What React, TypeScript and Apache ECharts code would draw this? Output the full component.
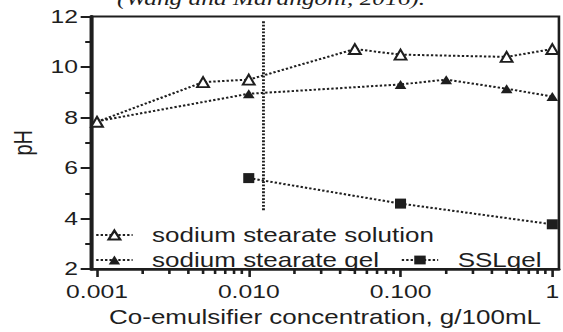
import React, { useEffect, useRef } from "react";
import * as echarts from "echarts";

// ---- data ----
const solutionX = [0.001, 0.005, 0.01, 0.05, 0.1, 0.5, 1];
const solutionPH = [7.83, 9.4, 9.5, 10.71, 10.49, 10.4, 10.71];
const gelX = [0.001, 0.01, 0.1, 0.2, 0.5, 1];
const gelPH = [7.85, 8.94, 9.31, 9.5, 9.14, 8.83];
const sslX = [0.01, 0.1, 1];
const sslPH = [5.6, 4.59, 3.77];
const refLineX = 0.0125;
const refLineY = [4.33, 11.83];
const minorTicksX = [
  0.002, 0.003, 0.004, 0.005, 0.006, 0.007, 0.008, 0.009,
  0.02, 0.03, 0.04, 0.05, 0.06, 0.07, 0.08, 0.09,
  0.2, 0.3, 0.4, 0.5, 0.6, 0.7, 0.8, 0.9,
];
const seriesNames = ["sodium stearate solution", "sodium stearate gel", "SSLgel"];
const xAxisTitle = "Co-emulsifier concentration, g/100mL";
const yAxisTitle = "pH";
const caption = "(Wang and Marangoni, 2016).";

const CHART_W = 433;
const CHART_H = 332;
const STRETCH = 563 / CHART_W;
const FONT = '"Liberation Sans", Arial, sans-serif';
const INK = "#1e1e1e";

const zip = (xs: number[], ys: number[]) => xs.map((x, i) => [x, ys[i]]);

export default function App() {
  const ref = useRef<HTMLDivElement>(null);
  useEffect(() => {
    if (!ref.current) return;
    const chart = echarts.init(ref.current, null, { renderer: "svg" });
    const lineStyle = { color: INK, width: 2, type: [1.8, 1.6] as any };
    const legendBase = {
      padding: 0,
      itemWidth: 28,
      itemHeight: 11,
      itemGap: 0,
      textStyle: { fontFamily: FONT, fontSize: 20, color: INK, padding: [0, 0, 0, 10] },
    };
    chart.setOption({
      animation: false,
      grid: {
        left: 65.8,
        right: -3,
        top: 16.5,
        bottom: 61,
        show: true,
        borderColor: INK,
        borderWidth: 2,
        backgroundColor: "transparent",
      },
      legend: [
        { ...legendBase, data: [seriesNames[0]], left: 73, top: 225 },
        { ...legendBase, data: [seriesNames[1]], left: 73, top: 250 },
        { ...legendBase, data: [seriesNames[2]], left: 308, top: 250 },
      ],
      graphic: [
        {
          type: "text",
          x: 90,
          y: 9,
          silent: true,
          style: {
            text: caption,
            font: 'italic 19.5px "Liberation Serif", serif',
            fill: INK,
            verticalAlign: "bottom",
          },
        },
      ],
      xAxis: {
        type: "log",
        logBase: 10,
        min: 0.000914,
        max: 1.106,
        name: xAxisTitle,
        nameLocation: "middle",
        nameGap: 38,
        nameTextStyle: { fontFamily: FONT, fontSize: 20, color: INK },
        axisLine: { lineStyle: { color: INK, width: 2.5 } },
        axisTick: { length: 8, lineStyle: { color: INK, width: 2 } },
        minorTick: { show: false },
        splitLine: { show: false },
        axisLabel: {
          fontFamily: FONT,
          fontSize: 19,
          color: INK,
          margin: 13,
          showMinLabel: false,
          showMaxLabel: false,
          formatter: (v: number) => (v >= 1 ? String(Math.round(v)) : v.toFixed(3)),
        },
      },
      yAxis: {
        type: "value",
        min: 2,
        max: 12,
        interval: 2,
        name: yAxisTitle,
        nameLocation: "middle",
        nameGap: 41,
        nameTextStyle: { fontFamily: FONT, fontSize: 20, color: INK },
        axisLine: { show: true, lineStyle: { color: INK, width: 3 } },
        axisTick: { show: true, length: 8, lineStyle: { color: INK, width: 2 } },
        minorTick: { show: true, splitNumber: 2, length: 4.5, lineStyle: { color: INK, width: 2 } },
        splitLine: { show: false },
        axisLabel: { fontFamily: FONT, fontSize: 19, color: INK, margin: 10 },
      },
      series: [
        {
          type: "line",
          name: seriesNames[0],
          data: zip(solutionX, solutionPH),
          symbol: "triangle",
          symbolSize: [9, 10],
          itemStyle: { color: "#ffffff", borderColor: INK, borderWidth: 1.8 },
          lineStyle,
          z: 4,
        },
        {
          type: "line",
          name: seriesNames[1],
          data: zip(gelX, gelPH),
          symbol: "triangle",
          symbolSize: [9, 9],
          itemStyle: { color: INK, borderColor: INK, borderWidth: 0 },
          lineStyle,
          z: 3,
        },
        {
          type: "line",
          name: seriesNames[2],
          data: zip(sslX, sslPH),
          symbol: "rect",
          symbolSize: [8.5, 10],
          itemStyle: { color: INK, borderColor: INK, borderWidth: 0 },
          lineStyle,
          z: 3,
        },
        {
          type: "line",
          name: "ref",
          data: refLineY.map((y) => [refLineX, y]),
          symbol: "none",
          lineStyle: { color: INK, width: 2.2, type: [1.8, 1.6] as any },
          z: 2,
        },
        {
          type: "custom",
          name: "minorTicks",
          data: minorTicksX.map((x) => [x, 2]),
          clip: false,
          silent: true,
          renderItem: (_params: any, api: any) => {
            const p = api.coord([api.value(0), api.value(1)]);
            return {
              type: "line",
              shape: { x1: p[0], y1: p[1], x2: p[0], y2: p[1] + 5 },
              style: { stroke: INK, lineWidth: 2 },
            };
          },
          z: 5,
        },
      ],
    });
    return () => chart.dispose();
  }, []);
  return (
    <div
      style={{
        position: "absolute",
        left: 0,
        top: 0,
        width: 563,
        height: 332,
        overflow: "hidden",
        background: "#fff",
      }}
    >
      <div
        ref={ref}
        style={{
          width: CHART_W,
          height: CHART_H,
          transform: `scaleX(${STRETCH})`,
          transformOrigin: "0 0",
        }}
      />
    </div>
  );
}
